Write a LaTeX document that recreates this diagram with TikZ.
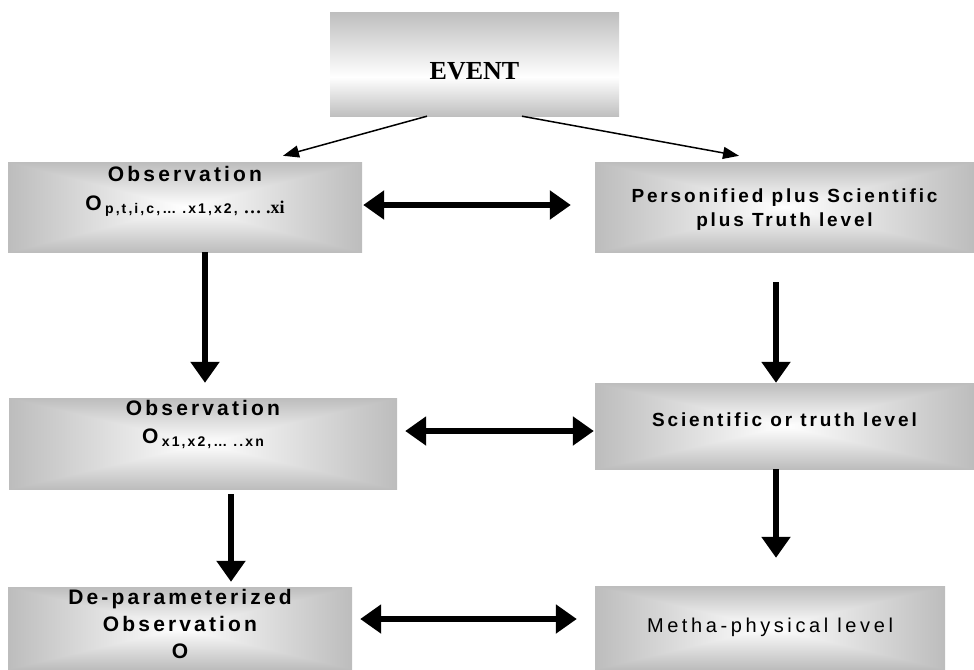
\documentclass[tikz,border=0pt]{standalone}
\usepackage{fontspec}
\newfontfamily\boxfont[LetterSpace=15]{Liberation Sans}
\newfontfamily\plainfont[LetterSpace=18]{Liberation Sans}
\newfontfamily\eventfont{Liberation Serif}
\newcommand\subtxt{\fontsize{14}{14}\selectfont}
\newcommand\xifont{\eventfont\bfseries\fontsize{18}{18}\selectfont}
\usetikzlibrary{arrows.meta,positioning}
% gray rim, white centre
\pgfdeclarefunctionalshading{glow}{\pgfpoint{-50bp}{-50bp}}{\pgfpoint{50bp}{50bp}}{}{
  abs exch abs 2 copy lt {exch} if pop 25 div 1 2 copy gt {exch} if pop
  0.26 mul 1 exch sub dup dup}
% gray top and bottom, white a bit below the middle
\pgfdeclareverticalshading{eventglow}{100bp}{color(0bp)=(black!25); color(25bp)=(black!25);
  color(44bp)=(white); color(75bp)=(black!25); color(100bp)=(black!25)}
\tikzset{
    %Define style for shaded boxes
    block/.style={
           rectangle,
           shading=glow,
           inner sep=0pt},
    %Define style for box texts
    txt/.style={
           font=\boxfont\bfseries\fontsize{21}{27}\selectfont,
           align=center},
    % Define arrow styles
    pfeil/.style={
           -{Triangle[length=16pt,width=12pt]},
           line width=1.5pt},
    fatarr/.style={
           -{Triangle[length=21pt,width=28pt]},
           line width=6pt},
    dblarr/.style={
           {Triangle[length=21pt,width=28pt]}-{Triangle[length=21pt,width=28pt]},
           line width=6pt}
}

\begin{document}
\begin{tikzpicture}[x=1pt,y=-1pt]
    \useasboundingbox (0,0) rectangle (974,669);
    \node (event) [block, shading=eventglow,
          minimum width=289pt, minimum height=103pt] at (474.5,64.5) {};
    \node (event text) [yshift=-7pt] at (event)
          {\eventfont\bfseries\fontsize{26}{26}\selectfont EVENT};
    \node (obs1) [block, minimum width=354pt, minimum height=90pt] at (185,207) {};
    \node (obs1 text) [txt, yshift=16pt,
          font=\boxfont\bfseries\fontsize{21}{29}\selectfont] at (obs1)
          {Observation\\O\,\raisebox{-3pt}{\subtxt p,t,i,c,… .x1,x2, {\xifont … .xi}}};
    \node (pers) [block, minimum width=379pt, minimum height=90pt] at (784.5,207) {};
    \node (pers text) [txt, yshift=-3pt,
          font=\boxfont\bfseries\fontsize{19}{24}\selectfont] at (pers)
          {Personified plus Scientific\\plus Truth level};
    \node (obs2) [block, minimum width=388pt, minimum height=91pt] at (203,443.5) {};
    \node (obs2 text) [txt, yshift=19pt,
          font=\boxfont\bfseries\fontsize{21}{28}\selectfont] at (obs2)
          {Observation\\O\,\raisebox{-3pt}{\subtxt x1,x2,… ..xn}};
    \node (sci) [block, minimum width=379pt, minimum height=86pt] at (784.5,426) {};
    \node (sci text) [txt, yshift=6pt,
          font=\boxfont\bfseries\fontsize{19}{24}\selectfont] at (sci)
          {Scientific or truth level};
    \node (deparam) [block, minimum width=344pt, minimum height=82pt] at (180,628) {};
    \node (deparam text) [txt, yshift=4pt] at (deparam)
          {De-parameterized\\Observation\\O};
    \node (metha) [block, minimum width=350pt, minimum height=83pt] at (770,627.5) {};
    \node (metha text) [txt, font=\plainfont\fontsize{20}{26}\selectfont] at (metha)
          {Metha-physical level};
    % connectors
    \draw [pfeil] ([xshift=-47.5pt]event.south) -- ([xshift=98pt,yshift=6pt]obs1.north);
    \draw [pfeil] ([xshift=47.5pt]event.south) -- ([xshift=-45.5pt,yshift=6pt]pers.north);
    \draw [fatarr, shorten >=15pt] ([xshift=20pt]obs1.south)
          -- ([xshift=20pt]obs1.south |- obs2.north);
    \draw [fatarr, shorten <=5pt, shorten >=5pt] ([xshift=28pt]obs2.south)
          -- ([xshift=28pt]obs2.south |- deparam.north);
    \draw [fatarr, shorten <=30pt] ([xshift=-8.5pt]pers.south)
          -- ([xshift=-8.5pt]pers.south |- sci.north);
    \draw [fatarr, shorten >=28pt] ([xshift=-8.5pt]sci.south)
          -- ([xshift=-8.5pt]sci.south |- metha.north);
    \draw [dblarr, shorten <=1pt, shorten >=24pt] ([yshift=2pt]obs1.east)
          -- ([yshift=2pt]obs1.east -| pers.west);
    \draw [dblarr, shorten <=8pt, shorten >=1pt] ([yshift=12.5pt]obs2.east)
          -- ([yshift=12.5pt]obs2.east -| sci.west);
    \draw [dblarr, shorten <=8pt, shorten >=18pt] ([yshift=9pt]deparam.east)
          -- ([yshift=9pt]deparam.east -| metha.west);
\end{tikzpicture}
\end{document}
